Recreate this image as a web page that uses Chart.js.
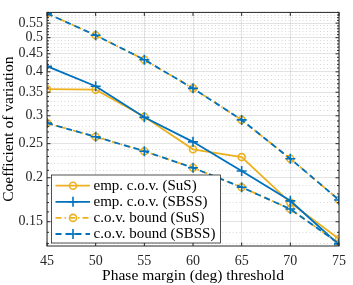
<!DOCTYPE html>
<html>
<head>
<meta charset="utf-8">
<script src="https://cdn.jsdelivr.net/npm/chart.js@4"></script>
<style>
  body { margin: 0; background: #fff; }
  canvas { display: block; }
</style>
</head>
<body>
<canvas id="chart" width="353" height="285"></canvas>
<script>
// data
const phase = [45, 50, 55, 60, 65, 70, 75];
const empSuS = [0.357, 0.356, 0.298, 0.241, 0.229, 0.170, 0.134];
const empSBSS = [0.415, 0.364, 0.297, 0.253, 0.209, 0.172, 0.129];
const boundUpper = [0.586, 0.508, 0.433, 0.359, 0.292, 0.2265, 0.173];
const boundLower = [0.286, 0.2615, 0.238, 0.2135, 0.188, 0.163, 0.130];
const xTicks = [45, 50, 55, 60, 65, 70, 75];
const yMajor = [0.15, 0.2, 0.25, 0.3, 0.35, 0.4, 0.45, 0.5, 0.55];
const legendLabels = ['emp. c.o.v. (SuS)', 'emp. c.o.v. (SBSS)', 'c.o.v. bound (SuS)', 'c.o.v. bound (SBSS)'];

// minor log ticks every 0.01
const yMinor = [];
for (let k = 13; k <= 59; k++) {
  if (!yMajor.some(v => Math.abs(v * 100 - k) < 1e-6)) yMinor.push(k / 100);
}

const blue = '#0072BD';
const yellow = '#EDB120';
const dashed = [6, 4];
const dashDot = [6, 3, 1.5, 3];
const serif = "'Liberation Serif', 'Times New Roman', serif";

const toXY = ys => phase.map((x, i) => ({ x: x, y: ys[i] }));

function series(ys, color, dash, marker, order) {
  return {
    data: toXY(ys),
    borderColor: color,
    backgroundColor: color,
    borderWidth: 1.8,
    borderDash: dash,
    pointStyle: marker == 'o' ? 'circle' : 'cross',
    pointRadius: marker == 'o' ? 3.5 : 5,
    pointHoverRadius: marker == 'o' ? 3.5 : 5,
    pointBorderWidth: 1.6,
    pointBorderColor: color,
    pointBackgroundColor: 'rgba(0,0,0,0)',
    tension: 0,
    fill: false,
    order: order
  };
}

const legendItems = [
  { color: yellow, dash: [], marker: 'o' },
  { color: blue, dash: [], marker: '+' },
  { color: yellow, dash: dashDot, marker: 'o' },
  { color: blue, dash: dashed, marker: '+' }
];

function drawMarker(ctx, m, x, y, color) {
  ctx.save();
  ctx.setLineDash([]);
  ctx.strokeStyle = color;
  ctx.lineWidth = 1.6;
  ctx.beginPath();
  if (m == 'o') {
    ctx.arc(x, y, 3.5, 0, Math.PI * 2);
  } else {
    ctx.moveTo(x - 5, y); ctx.lineTo(x + 5, y);
    ctx.moveTo(x, y - 5); ctx.lineTo(x, y + 5);
  }
  ctx.stroke();
  ctx.restore();
}

const framePlugin = {
  id: 'frame',
  afterDraw(chart) {
    const ctx = chart.ctx;
    const a = chart.chartArea;
    const xs = chart.scales.x, ys = chart.scales.y;
    ctx.save();
    ctx.strokeStyle = '#262626';
    ctx.lineWidth = 1;
    ctx.strokeRect(a.left, a.top, a.right - a.left, a.bottom - a.top);
    // inner tick marks
    ctx.beginPath();
    xTicks.forEach(v => {
      const px = xs.getPixelForValue(v);
      ctx.moveTo(px, a.bottom); ctx.lineTo(px, a.bottom - 3.5);
      ctx.moveTo(px, a.top); ctx.lineTo(px, a.top + 3.5);
    });
    yMajor.forEach(v => {
      const py = ys.getPixelForValue(v);
      ctx.moveTo(a.left, py); ctx.lineTo(a.left + 3.5, py);
      ctx.moveTo(a.right, py); ctx.lineTo(a.right - 3.5, py);
    });
    yMinor.forEach(v => {
      const py = ys.getPixelForValue(v);
      ctx.moveTo(a.left, py); ctx.lineTo(a.left + 2, py);
      ctx.moveTo(a.right, py); ctx.lineTo(a.right - 2, py);
    });
    ctx.stroke();

    // legend box in lower left corner
    ctx.font = '15px ' + serif;
    let tw = 0;
    legendLabels.forEach(t => { tw = Math.max(tw, ctx.measureText(t).width); });
    const bx = a.left + 4.5, bh = 68, by = a.bottom - 3 - bh;
    const bw = 42 + tw + 5;
    ctx.fillStyle = '#fff';
    ctx.fillRect(bx, by, bw, bh);
    ctx.strokeStyle = '#262626';
    ctx.lineWidth = 0.8;
    ctx.strokeRect(bx, by, bw, bh);
    legendItems.forEach((it, i) => {
      const ry = by + 10.7 + i * 16.1;
      ctx.save();
      ctx.strokeStyle = it.color;
      ctx.lineWidth = 1.8;
      ctx.setLineDash(it.dash);
      ctx.beginPath();
      ctx.moveTo(bx + 4, ry); ctx.lineTo(bx + 38.5, ry);
      ctx.stroke();
      ctx.restore();
      drawMarker(ctx, it.marker, bx + 21.5, ry, it.color);
      ctx.fillStyle = '#000';
      ctx.textBaseline = 'middle';
      ctx.fillText(legendLabels[i], bx + 42, ry + 0.5);
    });
    ctx.restore();
  }
};

const tickFont = { family: serif, size: 14 };
const titleFont = { family: serif, size: 15.5 };

new Chart(document.getElementById('chart'), {
  type: 'line',
  data: {
    datasets: [
      series(empSuS, yellow, [], 'o', 6),
      series(empSBSS, blue, [], '+', 5),
      series(boundUpper, yellow, dashDot, 'o', 4),
      series(boundUpper, blue, dashed, '+', 3),
      series(boundLower, yellow, dashDot, 'o', 2),
      series(boundLower, blue, dashed, '+', 1)
    ]
  },
  options: {
    responsive: false,
    animation: false,
    layout: { padding: { top: 6, right: 7, left: 0, bottom: 0 } },
    plugins: {
      legend: { display: false },
      tooltip: { enabled: false }
    },
    scales: {
      x: {
        type: 'linear',
        min: 45,
        max: 75,
        afterBuildTicks: s => { s.ticks = xTicks.map(v => ({ value: v })); },
        afterFit: s => { s.height = 39; },
        grid: { color: 'rgba(38,38,38,0.13)', drawTicks: false },
        border: { display: false },
        ticks: { font: tickFont, color: '#262626', padding: 7, maxRotation: 0 },
        title: { display: true, text: 'Phase margin (deg) threshold', font: titleFont, color: '#000', padding: 0 }
      },
      y: {
        type: 'logarithmic',
        min: 0.128,
        max: 0.59,
        afterBuildTicks: s => { s.ticks = yMajor.map(v => ({ value: v })); },
        afterFit: s => { s.width = 47; },
        grid: { color: 'rgba(38,38,38,0.13)', drawTicks: false },
        border: { display: false },
        ticks: { font: tickFont, color: '#262626', padding: 4, callback: v => String(v) },
        title: { display: true, text: 'Coefficient of variation', font: titleFont, color: '#000', padding: 0 }
      },
      y2: {
        type: 'logarithmic',
        position: 'right',
        min: 0.128,
        max: 0.59,
        afterBuildTicks: s => { s.ticks = yMinor.map(v => ({ value: v })); },
        afterFit: s => { s.width = 0; },
        grid: { color: 'rgba(38,38,38,0.18)', drawTicks: false },
        border: { display: false, dash: [1, 2.5] },
        ticks: { display: false }
      }
    }
  },
  plugins: [framePlugin]
});
</script>
</body>
</html>
